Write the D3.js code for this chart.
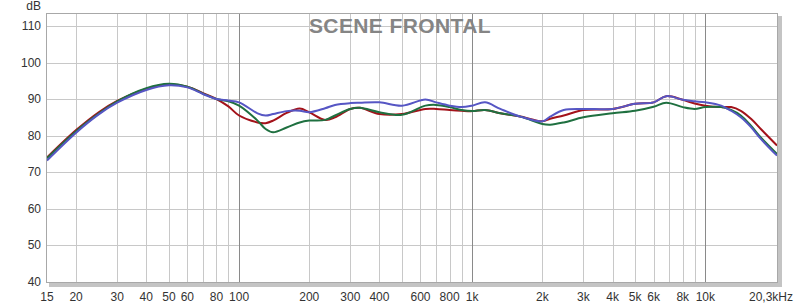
<!DOCTYPE html>
<html>
<head>
<meta charset="utf-8">
<script src="https://cdn.jsdelivr.net/npm/d3@7"></script>
<style>
  body { margin: 0; background: #fff; }
  text { font-family: "Liberation Sans", Arial, sans-serif; }
</style>
</head>
<body>
<div id="chart"></div>
<script>
(function () {

  // Data

  var freqs = [15, 20, 25, 30, 40, 50, 60, 70, 80, 90, 100, 120, 130, 140, 160, 182, 200, 234, 258, 300, 330, 400, 500, 630, 700, 800, 900, 1000, 1135, 1320, 1610, 2000, 2160, 2470, 3000, 4000, 5000, 6000, 6800, 8000, 9000, 10000, 11700, 12900, 14200, 15700, 17300, 20300]

  var redValues = [74.0, 81.5, 86.4, 89.5, 92.8, 94.0, 93.4, 91.6, 90.0, 88.0, 85.5, 83.6, 83.4, 84.1, 86.2, 87.4, 86.4, 84.3, 85.0, 87.3, 87.6, 85.9, 85.9, 87.3, 87.3, 87.0, 86.8, 86.7, 87.0, 86.1, 85.2, 83.9, 84.6, 85.5, 87.0, 87.3, 88.7, 89.1, 90.8, 89.8, 88.8, 88.2, 87.8, 87.8, 86.8, 84.6, 81.8, 77.3]

  var greenValues = [73.8, 81.2, 86.0, 89.4, 93.0, 94.2, 93.4, 91.5, 90.0, 89.4, 88.2, 84.1, 81.8, 80.9, 82.2, 83.6, 84.1, 84.3, 85.5, 87.3, 87.6, 86.4, 85.7, 88.2, 88.4, 87.8, 87.0, 86.7, 87.0, 86.1, 85.2, 83.2, 83.0, 83.6, 85.0, 86.1, 86.8, 87.9, 89.0, 87.8, 87.3, 87.8, 87.8, 87.0, 85.5, 82.7, 79.5, 75.0]

  var blueValues = [73.2, 80.8, 85.8, 89.0, 92.5, 93.8, 93.2, 91.4, 90.0, 89.6, 89.1, 86.1, 85.5, 85.9, 86.7, 86.8, 86.4, 87.5, 88.4, 88.9, 89.0, 89.1, 88.2, 89.9, 89.1, 88.2, 87.8, 88.2, 89.1, 87.3, 85.2, 83.9, 85.2, 87.0, 87.3, 87.3, 88.7, 89.1, 90.8, 89.8, 89.4, 89.1, 88.2, 86.8, 85.0, 82.3, 79.1, 74.5]

  var yTicks = [40, 50, 60, 70, 80, 90, 100, 110]
  var gridFreqs = [20, 30, 40, 50, 60, 70, 80, 90, 100, 200, 300, 400, 500, 600, 700, 800, 900, 1000, 2000, 3000, 4000, 5000, 6000, 7000, 8000, 9000, 10000]
  var labelFreqs = [15, 20, 30, 40, 50, 60, 80, 100, 200, 300, 400, 600, 800, 1000, 2000, 3000, 4000, 5000, 6000, 8000, 10000]
  var labelText = ["15", "20", "30", "40", "50", "60", "80", "100", "200", "300", "400", "600", "800", "1k", "2k", "3k", "4k", "5k", "6k", "8k", "10k"]

  var series = [
    { name: "red", color: "#a3121a", values: redValues },
    { name: "green", color: "#1f7040", values: greenValues },
    { name: "blue", color: "#5656c4", values: blueValues }
  ]

  // Create the SVG

  var width = 800,
      height = 306

  var plot = { left: 47, right: 777, top: 14, bottom: 282 }

  var svg = d3.select("#chart").append("svg")
      .attr("width", width)
      .attr("height", height)

  // Scales

  var xScale = d3.scaleLog()
    .domain([15, 20300])
    .range([plot.left, plot.right])

  var yScale = d3.scaleLinear()
    .domain([39.9, 113.3])
    .range([plot.bottom, plot.top])

  // Frame shadow

  svg.append("rect")
    .attr("x", plot.left + 2)
    .attr("y", plot.top + 2)
    .attr("width", plot.right - plot.left + 3)
    .attr("height", plot.bottom - plot.top + 3)
    .attr("fill", "#c4c4c4")

  svg.append("rect")
    .attr("x", plot.left)
    .attr("y", plot.top)
    .attr("width", plot.right - plot.left)
    .attr("height", plot.bottom - plot.top)
    .attr("fill", "#fff")

  // Grid

  svg.selectAll(".hgrid")
    .data(yTicks)
    .enter().append("line")
    .attr("class", "hgrid")
    .attr("x1", plot.left)
    .attr("x2", plot.right)
    .attr("y1", function(d){ return Math.round(yScale(d)) + 0.5 })
    .attr("y2", function(d){ return Math.round(yScale(d)) + 0.5 })
    .attr("stroke", "#c8c8c8")

  svg.selectAll(".vgrid")
    .data(gridFreqs)
    .enter().append("line")
    .attr("class", "vgrid")
    .attr("x1", function(d){ return Math.round(xScale(d)) + 0.5 })
    .attr("x2", function(d){ return Math.round(xScale(d)) + 0.5 })
    .attr("y1", plot.top)
    .attr("y2", plot.bottom)
    .attr("stroke", function(d){
      return (d === 100 || d === 1000 || d === 10000) ? "#8a8a8a" : "#c8c8c8"
    })

  // Title

  svg.append("text")
    .attr("x", 400)
    .attr("y", 33)
    .attr("text-anchor", "middle")
    .attr("font-size", 21)
    .attr("font-weight", "bold")
    .attr("letter-spacing", 0.4)
    .attr("fill", "#858585")
    .text("SCENE FRONTAL")

  // Curves

  var line = d3.line()
    .x(function(d){ return xScale(d[0]) })
    .y(function(d){ return yScale(d[1]) })
    .curve(d3.curveCatmullRom.alpha(0.5))

  svg.selectAll(".curve")
    .data(series)
    .enter().append("path")
    .attr("class", "curve")
    .attr("d", function(s){
      return line(freqs.map(function(f, i){ return [f, s.values[i]] }))
    })
    .attr("fill", "none")
    .attr("stroke", function(s){ return s.color })
    .attr("stroke-width", 2)

  // Frame border

  svg.append("rect")
    .attr("x", plot.left - 0.5)
    .attr("y", plot.top - 0.5)
    .attr("width", plot.right - plot.left + 1)
    .attr("height", plot.bottom - plot.top + 1)
    .attr("fill", "none")
    .attr("stroke", "#a8a8a8")

  // Axis labels

  svg.selectAll(".ylabel")
    .data(yTicks)
    .enter().append("text")
    .attr("class", "ylabel")
    .attr("x", 41)
    .attr("y", function(d){ return yScale(d) + 4 })
    .attr("text-anchor", "end")
    .attr("font-size", 12)
    .attr("fill", "#333")
    .text(function(d){ return d })

  svg.append("text")
    .attr("x", 41)
    .attr("y", 10)
    .attr("text-anchor", "end")
    .attr("font-size", 12)
    .attr("fill", "#333")
    .text("dB")

  svg.selectAll(".xlabel")
    .data(labelFreqs)
    .enter().append("text")
    .attr("class", "xlabel")
    .attr("x", function(d){ return xScale(d) })
    .attr("y", 301)
    .attr("text-anchor", "middle")
    .attr("font-size", 12)
    .attr("fill", "#333")
    .text(function(d, i){ return labelText[i] })

  svg.append("text")
    .attr("x", 793)
    .attr("y", 301)
    .attr("text-anchor", "end")
    .attr("font-size", 12)
    .attr("fill", "#333")
    .text("20,3kHz")

})()
</script>
</body>
</html>
